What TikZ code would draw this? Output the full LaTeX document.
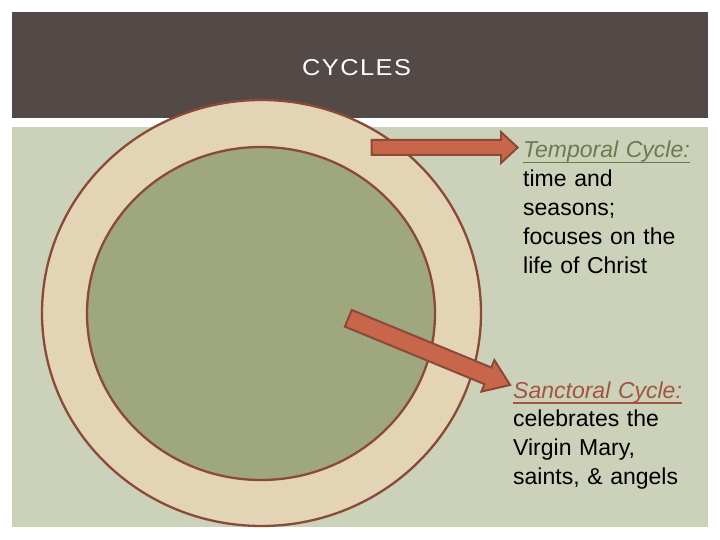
\documentclass[tikz,border=0pt]{standalone}
\usepackage{graphicx}
\usepackage{fontspec}
\setmainfont{Liberation Sans}
\usetikzlibrary{calc}
\definecolor{headgrey}{HTML}{534A48}
\definecolor{panelgreen}{HTML}{CCD1BA}
\definecolor{ringtan}{HTML}{E4D4B6}
\definecolor{innergreen}{HTML}{9FA77E}
\definecolor{ringbrown}{HTML}{8A4A36}
\definecolor{arrowred}{HTML}{C8664C}
\definecolor{olivetext}{HTML}{6E7A50}
\definecolor{rusttext}{HTML}{A3553F}
% block arrow: tail, angle, length, shaft half width, head half width, head length
\newcommand{\blockarrow}[6]{%
  \begin{scope}[shift={#1}, rotate=#2]
    \draw [blockarr] (0,-#4) -- ({#3-#6},-#4) -- ({#3-#6},-#5) -- (#3,0)
      -- ({#3-#6},#5) -- ({#3-#6},#4) -- (0,#4) -- cycle;
  \end{scope}}
% heading with a heavier underline
\newcommand{\cyclehead}[1]{%
  \setbox0\hbox{\itshape #1}\rlap{\rule[-5.5pt]{\wd0}{1.6pt}}\box0}
\tikzset{
  ring/.style={
    draw=ringbrown,
    line width=2.3pt},
  blockarr/.style={
    draw=ringbrown,
    fill=arrowred,
    line width=2pt,
    line join=miter},
  cyclenote/.style={
    anchor=base west,
    align=left,
    text width=200pt,
    inner sep=0pt,
    font=\fontsize{23}{28.8}\selectfont}
  }
\begin{document}
\begin{tikzpicture}[x=1pt, y=-1pt]
      \useasboundingbox (0,0) rectangle (720,540);
      \fill [white] (0,0) rectangle (720,540);
      \fill [headgrey] (12,12) rectangle (708,118);
      \fill [panelgreen] (12,127) rectangle (708,527);
      \node (title) [anchor=base west, inner sep=0pt, text=white,
        font=\fontsize{23}{23}\selectfont] at (302,76)
        {\scalebox{1.1}[1]{\addfontfeature{LetterSpace=6}CYCLES}};
      % the two cycles
      \draw [ring, fill=ringtan] (261.5,313) ellipse [x radius=219.5, y radius=213];
      \draw [ring, fill=innergreen] (261,313.5) ellipse [x radius=174, y radius=166.5];
      \blockarrow{(371.7,147.5)}{0}{146}{7.5}{15.3}{16.5}
      \blockarrow{(348.3,318.3)}{-22.4}{175}{9}{17}{24}
      \node (temporal) [cyclenote] at (523,158)
        {\textcolor{olivetext}{\cyclehead{Temporal Cycle:}}\\
         time and\\ seasons;\\ focuses on the\\ life of Christ};
      \node (sanctoral) [cyclenote] at (513,398)
        {\textcolor{rusttext}{\cyclehead{Sanctoral Cycle:}}\\
         celebrates the\\ Virgin Mary,\\ saints, \& angels};
    \end{tikzpicture}
\end{document}
